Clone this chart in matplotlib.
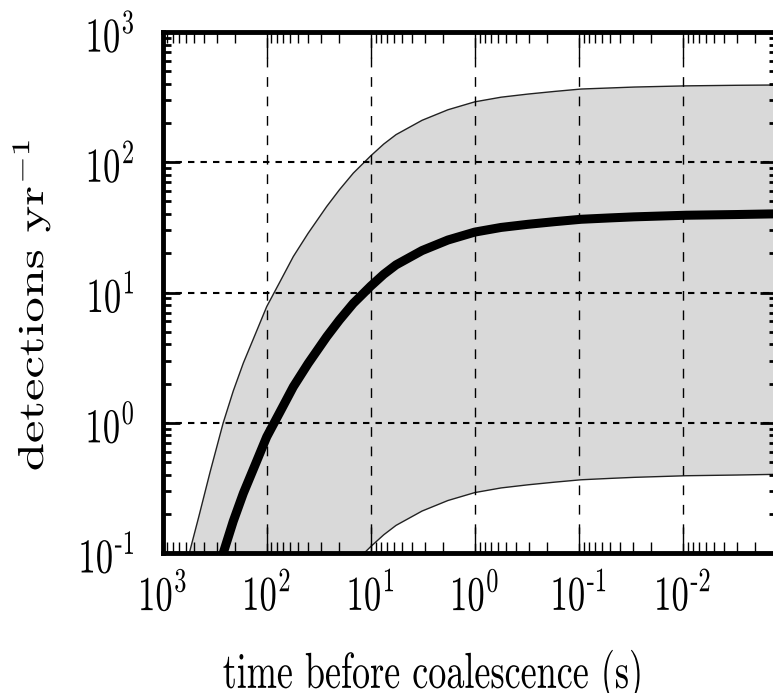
import matplotlib
matplotlib.use('Agg')
import matplotlib.pyplot as plt
import numpy as np
from matplotlib.patheffects import AbstractPathEffect
from matplotlib.transforms import Affine2D
from matplotlib.ticker import LogLocator, FixedLocator, FuncFormatter, NullFormatter

# values (time before merger in s, detections per yr)
t_sec = [600, 555, 450, 350, 262, 210, 168, 130, 100, 75,
         55.5, 40, 26.5, 20, 14.7, 10, 7.5, 5.71, 3.21, 1.81,
         1.0, 0.558, 0.307, 0.17, 0.095, 0.05, 0.0294, 0.0093, 0.003, 0.00124]
rate_mid = [0.0078, 0.010, 0.019, 0.042, 0.10, 0.175, 0.287, 0.47, 0.78, 1.2,
            1.89, 2.85, 4.58, 6.15, 8.26, 11.2, 13.8, 16.3, 21.0, 25.3,
            29.1, 31.6, 33.4, 35.0, 36.5, 37.4, 38.1, 39.2, 39.7, 40.2]
rate_high = [0.078, 0.10, 0.19, 0.42, 1.0, 1.75, 2.87, 4.7, 7.8, 12,
             18.9, 28.5, 45.8, 61.5, 82.6, 112, 138, 163, 210, 253,
             291, 316, 334, 350, 365, 372, 378, 386, 390, 392]
rate_low = [0.000078, 0.0001, 0.00019, 0.00042, 0.001, 0.00175, 0.00287, 0.0047, 0.0078, 0.012,
            0.0189, 0.0285, 0.0458, 0.0615, 0.0826, 0.112, 0.138, 0.163, 0.21, 0.253,
            0.291, 0.316, 0.334, 0.35, 0.365, 0.374, 0.381, 0.392, 0.397, 0.402]

x_major = [1e3, 1e2, 1e1, 1e0, 1e-1, 1e-2]
y_major = [1e-1, 1e0, 1e1, 1e2, 1e3]

plt.rcParams['font.family'] = 'cmr10'
plt.rcParams['mathtext.fontset'] = 'cm'
plt.rcParams['axes.unicode_minus'] = False
plt.rcParams['lines.scale_dashes'] = False


class StretchY(AbstractPathEffect):
    # the source picture has its lettering drawn taller than normal
    def __init__(self, factor=1.4):
        super().__init__()
        self.factor = factor

    def draw_path(self, renderer, gc, tpath, affine, rgbFace=None):
        bb = tpath.get_extents(affine)
        cy = 0.5 * (bb.y0 + bb.y1)
        stretch = Affine2D().translate(0, -cy).scale(1, self.factor).translate(0, cy)
        renderer.draw_path(gc, tpath, affine + stretch, rgbFace)


def pow_label(v, pos):
    e = int(round(np.log10(v)))
    if e < 0:
        return r'$10^{\text{-}%d}$' % -e
    return r'$10^{%d}$' % e


fig = plt.figure(figsize=(7.73, 6.93), dpi=100)
ax = fig.add_axes([0.2105, 0.2020, 0.7943, 0.7518])

ax.fill_between(t_sec, rate_low, rate_high, color='#d9d9d9', lw=0)
ax.plot(t_sec, rate_high, color='#222222', lw=1.0)
ax.plot(t_sec, rate_low, color='#222222', lw=1.0)
ax.plot(t_sec, rate_mid, color='black', lw=6.5)

ax.set_xscale('log')
ax.set_yscale('log')
ax.set_xlim(1e3, 1.25e-3)
ax.set_ylim(0.1, 1000)

ax.xaxis.set_major_locator(FixedLocator(x_major))
ax.yaxis.set_major_locator(FixedLocator(y_major))
ax.xaxis.set_minor_locator(LogLocator(base=10, subs=np.arange(2, 10)))
ax.yaxis.set_minor_locator(LogLocator(base=10, subs=np.arange(2, 10)))
ax.xaxis.set_major_formatter(FuncFormatter(pow_label))
ax.yaxis.set_major_formatter(FuncFormatter(pow_label))
ax.xaxis.set_minor_formatter(NullFormatter())
ax.yaxis.set_minor_formatter(NullFormatter())

ax.set_axisbelow(False)
ax.xaxis.grid(True, which='major', color='black', lw=1.0, linestyle=(0, (7, 7)))
ax.yaxis.grid(True, which='major', color='black', lw=1.5, linestyle=(0, (4.6, 4.4)))

for sp in ax.spines.values():
    sp.set_linewidth(3.5)

ax.tick_params(axis='x', which='major', direction='in', top=True, bottom=True,
               length=19, width=1.0, pad=17, labelsize=25)
ax.tick_params(axis='x', which='minor', direction='in', top=True, bottom=True,
               length=8, width=1.0)
ax.tick_params(axis='y', which='major', direction='in', left=True, right=True,
               length=12, width=2.0, pad=20, labelsize=25)
ax.tick_params(axis='y', which='minor', direction='in', left=True, right=True,
               length=5.5, width=2.0)

ax.set_xlabel('time before coalescence (s)', fontsize=26)
ax.set_ylabel(r'detections yr$^{-1}$', fontsize=26)
ax.xaxis.set_label_coords(0.44, -0.2)
ax.yaxis.set_label_coords(-0.18, 0.476)

fig.canvas.draw()
for txt in ax.get_xticklabels() + ax.get_yticklabels() + [ax.xaxis.label, ax.yaxis.label]:
    txt.set_path_effects([StretchY(1.4)])

fig.savefig('out.png', dpi=100)
